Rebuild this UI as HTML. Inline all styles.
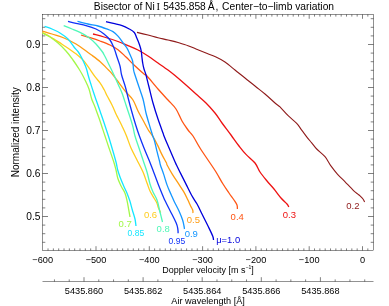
<!DOCTYPE html>
<html><head><meta charset="utf-8"><style>
html,body{margin:0;padding:0;background:#fff;}
svg{display:block;font-family:"Liberation Sans",sans-serif;font-size:9.2px;fill:#000;}
</style></head><body>
<svg width="389" height="306" viewBox="0 0 389 306" style="will-change:transform">
<rect width="389" height="306" fill="#fff"/>
<rect x="42.5" y="14.5" width="331.0" height="236.0" fill="none" stroke="#000" stroke-width="0.43"/>
<path d="M48.03 250.5v-2.1M48.03 14.5v2.1M53.36 250.5v-2.1M53.36 14.5v2.1M58.69 250.5v-2.1M58.69 14.5v2.1M64.02 250.5v-2.1M64.02 14.5v2.1M69.35 250.5v-2.1M69.35 14.5v2.1M74.68 250.5v-2.1M74.68 14.5v2.1M80.01 250.5v-2.1M80.01 14.5v2.1M85.34 250.5v-2.1M85.34 14.5v2.1M90.67 250.5v-2.1M90.67 14.5v2.1M96.00 250.5v-4.3M96.00 14.5v4.3M101.33 250.5v-2.1M101.33 14.5v2.1M106.66 250.5v-2.1M106.66 14.5v2.1M111.99 250.5v-2.1M111.99 14.5v2.1M117.32 250.5v-2.1M117.32 14.5v2.1M122.65 250.5v-2.1M122.65 14.5v2.1M127.98 250.5v-2.1M127.98 14.5v2.1M133.31 250.5v-2.1M133.31 14.5v2.1M138.64 250.5v-2.1M138.64 14.5v2.1M143.97 250.5v-2.1M143.97 14.5v2.1M149.30 250.5v-4.3M149.30 14.5v4.3M154.63 250.5v-2.1M154.63 14.5v2.1M159.96 250.5v-2.1M159.96 14.5v2.1M165.29 250.5v-2.1M165.29 14.5v2.1M170.62 250.5v-2.1M170.62 14.5v2.1M175.95 250.5v-2.1M175.95 14.5v2.1M181.28 250.5v-2.1M181.28 14.5v2.1M186.61 250.5v-2.1M186.61 14.5v2.1M191.94 250.5v-2.1M191.94 14.5v2.1M197.27 250.5v-2.1M197.27 14.5v2.1M202.60 250.5v-4.3M202.60 14.5v4.3M207.93 250.5v-2.1M207.93 14.5v2.1M213.26 250.5v-2.1M213.26 14.5v2.1M218.59 250.5v-2.1M218.59 14.5v2.1M223.92 250.5v-2.1M223.92 14.5v2.1M229.25 250.5v-2.1M229.25 14.5v2.1M234.58 250.5v-2.1M234.58 14.5v2.1M239.91 250.5v-2.1M239.91 14.5v2.1M245.24 250.5v-2.1M245.24 14.5v2.1M250.57 250.5v-2.1M250.57 14.5v2.1M255.90 250.5v-4.3M255.90 14.5v4.3M261.23 250.5v-2.1M261.23 14.5v2.1M266.56 250.5v-2.1M266.56 14.5v2.1M271.89 250.5v-2.1M271.89 14.5v2.1M277.22 250.5v-2.1M277.22 14.5v2.1M282.55 250.5v-2.1M282.55 14.5v2.1M287.88 250.5v-2.1M287.88 14.5v2.1M293.21 250.5v-2.1M293.21 14.5v2.1M298.54 250.5v-2.1M298.54 14.5v2.1M303.87 250.5v-2.1M303.87 14.5v2.1M309.20 250.5v-4.3M309.20 14.5v4.3M314.53 250.5v-2.1M314.53 14.5v2.1M319.86 250.5v-2.1M319.86 14.5v2.1M325.19 250.5v-2.1M325.19 14.5v2.1M330.52 250.5v-2.1M330.52 14.5v2.1M335.85 250.5v-2.1M335.85 14.5v2.1M341.18 250.5v-2.1M341.18 14.5v2.1M346.51 250.5v-2.1M346.51 14.5v2.1M351.84 250.5v-2.1M351.84 14.5v2.1M357.17 250.5v-2.1M357.17 14.5v2.1M362.50 250.5v-4.3M362.50 14.5v4.3M367.83 250.5v-2.1M367.83 14.5v2.1M42.5 242.30h2.8M373.5 242.30h-2.8M42.5 233.70h2.8M373.5 233.70h-2.8M42.5 225.10h2.8M373.5 225.10h-2.8M42.5 216.50h5.5M373.5 216.50h-5.5M42.5 207.90h2.8M373.5 207.90h-2.8M42.5 199.30h2.8M373.5 199.30h-2.8M42.5 190.70h2.8M373.5 190.70h-2.8M42.5 182.10h2.8M373.5 182.10h-2.8M42.5 173.50h5.5M373.5 173.50h-5.5M42.5 164.90h2.8M373.5 164.90h-2.8M42.5 156.30h2.8M373.5 156.30h-2.8M42.5 147.70h2.8M373.5 147.70h-2.8M42.5 139.10h2.8M373.5 139.10h-2.8M42.5 130.50h5.5M373.5 130.50h-5.5M42.5 121.90h2.8M373.5 121.90h-2.8M42.5 113.30h2.8M373.5 113.30h-2.8M42.5 104.70h2.8M373.5 104.70h-2.8M42.5 96.10h2.8M373.5 96.10h-2.8M42.5 87.50h5.5M373.5 87.50h-5.5M42.5 78.90h2.8M373.5 78.90h-2.8M42.5 70.30h2.8M373.5 70.30h-2.8M42.5 61.70h2.8M373.5 61.70h-2.8M42.5 53.10h2.8M373.5 53.10h-2.8M42.5 44.50h5.5M373.5 44.50h-5.5M42.5 35.90h2.8M373.5 35.90h-2.8M42.5 27.30h2.8M373.5 27.30h-2.8M42.5 18.70h2.8M373.5 18.70h-2.8" stroke="#000" stroke-width="0.5" fill="none"/>
<text x="42.7" y="262.5" text-anchor="middle">−600</text>
<text x="96.0" y="262.5" text-anchor="middle">−500</text>
<text x="149.3" y="262.5" text-anchor="middle">−400</text>
<text x="202.6" y="262.5" text-anchor="middle">−300</text>
<text x="255.9" y="262.5" text-anchor="middle">−200</text>
<text x="309.2" y="262.5" text-anchor="middle">−100</text>
<text x="362.5" y="262.5" text-anchor="middle">0</text>
<text x="40.4" y="220.2" text-anchor="end" font-size="10.2">0.5</text>
<text x="40.4" y="177.2" text-anchor="end" font-size="10.2">0.6</text>
<text x="40.4" y="134.2" text-anchor="end" font-size="10.2">0.7</text>
<text x="40.4" y="91.2" text-anchor="end" font-size="10.2">0.8</text>
<text x="40.4" y="48.2" text-anchor="end" font-size="10.2">0.9</text>
<text x="162.3" y="272.6" textLength="91.4" lengthAdjust="spacingAndGlyphs">Doppler velocity [m s<tspan dy="-3.6" font-size="5.2">−1</tspan><tspan dy="3.6">]</tspan></text>
<text transform="translate(18.7,132.3) rotate(-90)" text-anchor="middle" font-size="10">Normalized intensity</text>
<g font-size="10.3"><text x="93.8" y="10" textLength="61" lengthAdjust="spacingAndGlyphs">Bisector of Ni</text><text x="156.6" y="10" font-family="Liberation Serif" font-size="10.5">I</text><text x="163.2" y="10" textLength="42.6" lengthAdjust="spacingAndGlyphs">5435.858</text><text x="207.7" y="10">Å</text><text x="215.4" y="10">,</text><text x="222.1" y="10" textLength="112" lengthAdjust="spacingAndGlyphs">Center−to−limb variation</text></g>
<path d="M42.5 281.5H373.5" stroke="#000" stroke-width="0.43"/>
<path d="M54.45 281.5v-2.1M69.22 281.5v-2.1M84.00 281.5v-4.3M98.78 281.5v-2.1M113.55 281.5v-2.1M128.32 281.5v-2.1M143.10 281.5v-4.3M157.88 281.5v-2.1M172.65 281.5v-2.1M187.43 281.5v-2.1M202.20 281.5v-4.3M216.97 281.5v-2.1M231.75 281.5v-2.1M246.53 281.5v-2.1M261.30 281.5v-4.3M276.08 281.5v-2.1M290.85 281.5v-2.1M305.62 281.5v-2.1M320.40 281.5v-4.3M335.18 281.5v-2.1M349.95 281.5v-2.1M364.73 281.5v-2.1" stroke="#000" stroke-width="0.5" fill="none"/>
<text x="84.0" y="293.5" text-anchor="middle">5435.860</text>
<text x="143.1" y="293.5" text-anchor="middle">5435.862</text>
<text x="202.2" y="293.5" text-anchor="middle">5435.864</text>
<text x="261.3" y="293.5" text-anchor="middle">5435.866</text>
<text x="320.4" y="293.5" text-anchor="middle">5435.868</text>
<text x="171.3" y="303.5" textLength="73.6" lengthAdjust="spacingAndGlyphs">Air wavelength [Å]</text>
<path d="M137.0 32.4C138.8 32.8 144.5 34.1 148.0 35.0C151.5 35.9 154.7 36.9 158.0 37.7C161.3 38.5 164.7 39.2 168.0 40.0C171.3 40.8 174.7 41.5 178.0 42.5C181.3 43.5 185.0 44.6 188.0 45.7C191.0 46.8 193.0 47.8 196.0 49.0C199.0 50.2 202.7 51.7 206.0 53.0C209.3 54.3 212.8 55.5 216.0 57.0C219.2 58.5 221.8 59.8 225.0 62.0C228.2 64.2 231.7 67.3 235.0 70.0C238.3 72.7 241.7 75.3 245.0 78.0C248.3 80.7 251.7 83.3 255.0 86.0C258.3 88.7 261.7 91.2 265.0 94.0C268.3 96.8 272.5 100.8 275.0 103.0C277.5 105.2 277.8 104.8 280.0 106.9C282.2 109.1 285.6 113.2 288.4 115.9C291.2 118.7 294.5 121.0 296.7 123.4C298.9 125.8 300.0 127.9 301.7 130.1C303.4 132.3 305.1 134.7 306.7 136.8C308.3 138.9 309.8 140.6 311.5 142.6C313.2 144.6 314.4 146.7 316.7 149.0C318.9 151.3 322.6 153.9 325.0 156.7C327.4 159.5 328.8 163.0 330.9 165.9C333.0 168.8 335.2 171.7 337.6 174.3C340.0 177.0 342.4 179.1 345.1 181.8C347.8 184.6 351.5 188.6 353.8 190.8C356.1 193.0 357.5 193.6 359.0 195.0C360.5 196.4 362.1 197.8 363.0 199.0C363.9 200.2 364.3 201.5 364.6 202.0" stroke="#8f1a1a" stroke-width="1.1" fill="none" stroke-linejoin="round" stroke-linecap="butt"/>
<text x="346.3" y="209.1" fill="#8f1a1a" font-size="9.5">0.2</text>
<path d="M93.0 34.0C94.8 34.5 99.8 35.8 104.0 37.0C108.2 38.2 114.0 40.0 118.0 41.5C122.0 43.0 124.7 44.3 128.0 45.7C131.3 47.1 134.7 48.3 138.0 50.0C141.3 51.7 144.7 53.8 148.0 56.0C151.3 58.2 154.7 60.7 158.0 63.0C161.3 65.3 165.2 67.9 168.0 70.0C170.8 72.1 172.0 73.0 175.0 75.5C178.0 78.0 182.5 81.9 186.0 85.0C189.5 88.1 192.7 91.0 196.0 94.0C199.3 97.0 202.8 99.8 206.0 103.0C209.2 106.2 212.3 109.7 215.0 113.0C217.7 116.3 219.3 119.3 222.0 123.0C224.7 126.7 228.2 131.2 231.0 135.0C233.8 138.8 236.5 142.8 239.0 146.0C241.5 149.2 243.3 151.6 246.0 154.4C248.7 157.2 252.7 160.1 255.0 163.0C257.3 165.9 258.0 169.0 260.0 172.0C262.0 175.0 264.7 178.2 267.0 181.0C269.3 183.8 271.7 186.2 274.0 189.0C276.3 191.8 278.8 195.5 281.0 198.0C283.2 200.5 285.7 202.5 287.0 204.0C288.3 205.5 288.5 206.5 288.8 207.0" stroke="#ee1111" stroke-width="1.3" fill="none" stroke-linejoin="round" stroke-linecap="butt"/>
<text x="282.8" y="217.7" fill="#ee1111" font-size="9.5">0.3</text>
<path d="M81.0 35.0C82.5 35.5 86.8 36.7 90.0 37.7C93.2 38.7 96.7 39.8 100.0 41.0C103.3 42.2 107.0 43.5 110.0 45.0C113.0 46.5 115.3 47.7 118.0 49.7C120.7 51.7 123.3 54.5 126.0 57.0C128.7 59.5 131.0 62.2 134.0 65.0C137.0 67.8 141.8 72.2 144.0 74.0C146.2 75.8 144.7 73.5 147.0 76.0C149.3 78.5 154.5 85.0 158.0 89.0C161.5 93.0 165.0 96.7 168.0 100.0C171.0 103.3 173.7 105.5 176.0 109.0C178.3 112.5 180.0 117.5 182.0 121.0C184.0 124.5 186.2 127.5 188.0 130.0C189.8 132.5 191.0 133.0 193.0 136.0C195.0 139.0 197.5 144.0 200.0 148.0C202.5 152.0 205.3 156.0 208.0 160.0C210.7 164.0 213.5 168.0 216.0 172.0C218.5 176.0 220.8 180.5 223.0 184.0C225.2 187.5 227.2 190.3 229.0 193.0C230.8 195.7 232.7 198.0 234.0 200.0C235.3 202.0 236.4 203.5 237.0 205.0C237.6 206.5 237.3 208.3 237.4 209.0" stroke="#ff5514" stroke-width="1.3" fill="none" stroke-linejoin="round" stroke-linecap="butt"/>
<text x="230.6" y="219.7" fill="#ff5514" font-size="9.5">0.4</text>
<path d="M42.4 31.0C44.0 31.5 48.4 32.8 52.0 34.0C55.6 35.2 60.0 36.3 64.0 38.0C68.0 39.7 72.0 41.6 76.0 44.0C80.0 46.4 85.4 50.7 88.0 52.5C90.6 54.3 89.5 53.5 91.5 55.0C93.5 56.5 97.6 59.5 100.2 61.7C102.8 63.9 105.0 66.5 106.9 68.4C108.8 70.3 109.7 70.9 111.5 73.1C113.3 75.3 115.6 78.3 118.0 81.5C120.4 84.7 123.5 88.9 126.0 92.0C128.5 95.1 131.0 96.8 133.0 100.0C135.0 103.2 136.2 107.3 138.0 111.0C139.8 114.7 142.3 118.8 144.0 122.0C145.7 125.2 146.8 127.5 148.3 130.0C149.8 132.4 151.4 134.1 153.0 136.7C154.6 139.3 156.2 142.5 157.7 145.4C159.1 148.3 160.2 151.2 161.7 154.1C163.1 157.0 165.5 161.0 166.4 162.8C167.3 164.6 166.1 163.1 167.1 165.0C168.1 166.9 170.5 171.3 172.4 174.4C174.3 177.5 176.6 180.8 178.5 183.7C180.4 186.6 182.2 189.1 183.8 191.8C185.4 194.5 186.7 197.5 187.8 199.8C188.9 202.1 189.7 204.0 190.5 205.7C191.3 207.4 192.3 208.8 192.7 210.0C193.1 211.2 192.9 212.5 193.0 213.0" stroke="#ff9c12" stroke-width="1.3" fill="none" stroke-linejoin="round" stroke-linecap="butt"/>
<text x="186.8" y="222.5" fill="#ff9c12" font-size="9.5">0.5</text>
<path d="M42.4 32.4C43.4 33.0 46.3 34.5 48.5 35.8C50.7 37.1 53.1 38.6 55.4 40.0C57.6 41.4 59.8 42.7 62.0 44.2C64.2 45.7 66.2 47.0 68.8 48.8C71.4 50.6 75.0 53.1 77.4 55.0C79.8 56.9 81.5 58.3 83.4 60.4C85.3 62.5 86.9 65.0 88.8 67.7C90.7 70.4 92.9 73.8 94.8 76.4C96.7 79.0 98.6 80.9 100.2 83.1C101.8 85.3 103.0 87.6 104.2 89.8C105.4 92.0 105.9 93.5 107.2 96.0C108.5 98.5 110.5 102.0 112.0 105.0C113.5 108.0 115.0 111.8 116.0 114.0C117.0 116.2 117.0 116.0 118.0 118.0C119.0 120.0 120.6 123.0 122.0 126.0C123.4 129.0 125.0 132.3 126.5 136.0C128.0 139.7 129.2 144.0 131.0 148.0C132.8 152.0 135.0 156.0 137.0 160.0C139.0 164.0 141.3 168.2 143.0 172.0C144.7 175.8 145.8 179.8 147.0 183.0C148.2 186.2 148.8 188.5 150.0 191.0C151.2 193.5 152.8 196.0 154.0 198.0C155.2 200.0 156.2 201.5 156.9 203.0C157.6 204.5 157.5 205.4 158.1 207.0C158.7 208.6 160.2 211.8 160.6 212.8" stroke="#ffcd1e" stroke-width="1.3" fill="none" stroke-linejoin="round" stroke-linecap="butt"/>
<text x="143.9" y="217.8" fill="#ffcd1e" font-size="9.5">0.6</text>
<path d="M42.4 33.0C43.7 33.7 47.4 35.3 50.0 37.0C52.6 38.7 55.3 40.7 58.0 43.0C60.7 45.3 63.5 48.2 66.0 51.0C68.5 53.8 70.8 57.0 73.0 60.0C75.2 63.0 77.4 66.5 79.0 69.0C80.6 71.5 81.3 72.8 82.5 75.0C83.7 77.2 84.9 79.7 86.0 82.0C87.1 84.3 88.0 86.2 89.0 89.0C90.0 91.8 90.7 96.0 91.7 99.0C92.7 102.0 93.8 103.8 95.0 107.0C96.2 110.2 97.8 114.7 99.0 118.0C100.2 121.3 101.0 124.0 102.0 127.0C103.0 130.0 103.8 132.5 105.0 136.0C106.2 139.5 107.5 143.7 109.0 148.0C110.5 152.3 112.6 158.3 113.8 162.0C115.0 165.7 115.3 167.3 116.0 170.0C116.7 172.7 116.9 175.3 117.7 178.0C118.5 180.7 119.9 183.4 121.1 186.0C122.3 188.6 124.1 190.9 125.1 193.4C126.1 195.9 126.5 198.0 127.1 200.8C127.7 203.6 128.3 207.5 128.8 210.2C129.3 212.9 129.8 215.9 130.0 217.0" stroke="#a2f848" stroke-width="1.3" fill="none" stroke-linejoin="round" stroke-linecap="butt"/>
<text x="118.6" y="227.1" fill="#a2f848" font-size="9.5">0.7</text>
<path d="M63.7 25.6C65.1 26.2 69.3 27.9 72.0 29.0C74.7 30.1 77.3 31.1 80.0 32.4C82.7 33.7 85.3 35.1 88.0 37.0C90.7 38.9 93.6 41.5 96.0 44.0C98.4 46.5 101.1 50.2 102.5 52.0C103.9 53.8 103.2 53.2 104.2 55.0C105.2 56.8 107.0 60.5 108.2 63.0C109.4 65.5 110.6 67.9 111.5 69.7C112.4 71.5 112.4 71.6 113.5 74.0C114.6 76.4 116.6 80.8 118.0 84.0C119.4 87.2 120.7 89.5 122.0 93.0C123.3 96.5 124.7 101.0 126.0 105.0C127.3 109.0 128.8 113.3 130.0 117.0C131.2 120.7 132.2 123.8 133.0 127.0C133.8 130.2 134.0 132.5 135.0 136.0C136.0 139.5 137.7 144.0 139.0 148.0C140.3 152.0 141.7 156.0 143.0 160.0C144.3 164.0 145.8 168.0 147.0 172.0C148.2 176.0 149.0 180.7 150.0 184.0C151.0 187.3 151.8 189.3 153.0 192.0C154.2 194.7 155.9 197.0 157.0 200.0C158.1 203.0 158.8 207.0 159.5 210.0C160.2 213.0 161.0 216.0 161.5 218.0C162.0 220.0 162.3 221.3 162.5 222.0" stroke="#50f8b8" stroke-width="1.3" fill="none" stroke-linejoin="round" stroke-linecap="butt"/>
<text x="156.6" y="232.3" fill="#50f8b8" font-size="9.5">0.8</text>
<path d="M44.6 26.4C45.8 26.8 49.4 27.9 52.0 29.0C54.6 30.1 57.3 31.3 60.0 33.0C62.7 34.7 65.7 36.7 68.0 39.0C70.3 41.3 72.3 44.8 74.0 47.0C75.7 49.2 77.0 50.2 78.3 52.0C79.6 53.8 80.5 55.3 81.8 58.0C83.1 60.7 85.2 65.2 86.2 68.0C87.2 70.8 87.4 72.5 88.1 75.0C88.8 77.5 89.6 80.2 90.5 83.0C91.4 85.8 92.4 89.0 93.4 92.0C94.4 95.0 95.4 97.8 96.5 101.0C97.6 104.2 98.8 107.5 100.0 111.0C101.2 114.5 102.4 117.8 103.8 122.0C105.2 126.2 107.0 131.7 108.4 136.0C109.8 140.3 110.7 143.7 112.0 148.0C113.3 152.3 115.0 158.3 116.0 162.0C117.0 165.7 117.0 167.3 117.7 170.0C118.4 172.7 119.4 175.3 120.4 178.0C121.4 180.7 122.6 183.4 123.7 186.0C124.8 188.6 126.1 190.9 127.1 193.4C128.1 195.9 128.9 198.0 129.8 200.8C130.7 203.6 131.5 207.2 132.4 210.2C133.3 213.2 134.4 216.4 135.0 219.0C135.6 221.6 135.8 224.8 136.0 226.0" stroke="#14e6ff" stroke-width="1.3" fill="none" stroke-linejoin="round" stroke-linecap="butt"/>
<text x="127.6" y="235.7" fill="#14e6ff" font-size="9.5" textLength="16.6" lengthAdjust="spacingAndGlyphs">0.85</text>
<path d="M77.5 21.4C79.2 21.8 84.6 23.2 88.0 24.0C91.4 24.8 94.7 25.1 98.0 26.0C101.3 26.9 105.5 28.5 108.0 29.4C110.5 30.3 111.3 30.5 113.0 31.6C114.7 32.7 116.2 34.1 118.0 36.1C119.8 38.1 121.9 41.4 123.5 43.5C125.1 45.6 126.3 46.9 127.4 48.8C128.5 50.7 129.2 52.8 130.1 54.8C131.0 56.8 132.0 58.5 132.6 61.0C133.2 63.5 133.2 67.7 133.6 70.0C134.0 72.3 134.1 72.2 135.0 75.0C135.9 77.8 137.7 83.0 139.0 87.0C140.3 91.0 141.8 94.7 143.0 99.0C144.2 103.3 144.8 108.3 146.0 113.0C147.2 117.7 148.9 123.2 150.0 127.0C151.1 130.8 152.1 133.7 152.8 136.0C153.5 138.3 153.7 138.1 154.4 140.7C155.1 143.3 156.2 148.0 157.0 151.4C157.8 154.8 158.9 158.7 159.5 161.0C160.1 163.3 159.7 162.8 160.4 165.0C161.1 167.2 162.6 171.1 163.7 174.4C164.8 177.8 165.9 181.8 167.1 185.1C168.3 188.4 169.9 191.8 171.1 194.5C172.3 197.2 172.9 198.8 174.2 201.5C175.5 204.2 177.6 207.9 179.0 211.0C180.4 214.1 181.8 217.5 182.6 220.0C183.4 222.5 183.7 224.5 184.0 226.0C184.3 227.5 184.4 228.5 184.5 229.0" stroke="#1496ff" stroke-width="1.3" fill="none" stroke-linejoin="round" stroke-linecap="butt"/>
<text x="184.7" y="236.6" fill="#1496ff" font-size="9.5">0.9</text>
<path d="M68.0 21.4C69.3 21.7 73.0 22.7 76.0 23.4C79.0 24.1 82.7 24.7 86.0 25.6C89.3 26.5 93.0 27.6 96.0 29.0C99.0 30.4 101.7 32.2 104.0 34.0C106.3 35.8 108.3 37.7 110.0 40.0C111.7 42.3 112.8 45.2 114.0 48.0C115.2 50.8 116.0 54.0 117.0 57.0C118.0 60.0 119.2 63.0 120.0 66.0C120.8 69.0 120.7 71.5 121.6 75.0C122.5 78.5 124.3 83.0 125.4 87.0C126.5 91.0 127.4 95.0 128.4 99.0C129.4 103.0 130.4 106.7 131.6 111.0C132.8 115.3 134.4 120.8 135.7 125.0C137.0 129.2 138.0 132.2 139.4 136.0C140.8 139.8 142.4 144.0 144.0 148.0C145.6 152.0 147.3 155.8 149.0 160.0C150.7 164.2 152.3 168.7 154.0 173.0C155.7 177.3 157.3 182.0 158.9 186.0C160.5 190.0 162.4 194.7 163.4 197.0C164.4 199.3 163.6 197.7 164.7 200.0C165.8 202.3 168.2 206.9 170.1 210.7C172.0 214.5 174.8 219.8 176.1 222.8C177.4 225.8 177.5 227.1 177.8 228.8C178.1 230.5 178.1 232.5 178.1 233.2" stroke="#1032f8" stroke-width="1.3" fill="none" stroke-linejoin="round" stroke-linecap="butt"/>
<text x="168.6" y="243.7" fill="#1032f8" font-size="9.5" textLength="16.6" lengthAdjust="spacingAndGlyphs">0.95</text>
<path d="M106.0 21.6C107.2 21.9 110.7 22.7 113.4 23.4C116.1 24.1 119.5 24.7 122.1 25.6C124.7 26.5 126.8 27.6 128.8 28.7C130.8 29.8 133.0 30.9 134.3 32.5C135.6 34.1 135.9 36.1 136.8 38.1C137.7 40.1 138.8 42.7 139.5 44.8C140.2 46.9 140.8 48.8 141.2 50.8C141.6 52.8 141.7 55.0 141.9 57.0C142.2 59.0 142.3 61.0 142.7 63.0C143.0 65.0 143.4 67.0 144.0 69.0C144.6 71.0 145.2 72.0 146.0 75.0C146.8 78.0 147.8 82.3 149.0 87.0C150.2 91.7 151.5 97.7 153.0 103.0C154.5 108.3 156.3 114.0 158.0 119.0C159.7 124.0 162.0 130.2 163.0 133.0C164.0 135.8 163.2 133.9 164.0 136.0C164.8 138.1 166.3 141.6 168.0 145.5C169.7 149.4 172.6 156.2 174.0 159.5C175.4 162.8 175.3 162.5 176.5 165.0C177.7 167.5 179.4 171.1 181.1 174.4C182.8 177.8 184.7 181.5 186.5 185.1C188.3 188.7 190.2 192.7 191.9 195.8C193.6 198.9 195.2 200.8 196.9 203.8C198.6 206.8 200.2 210.3 202.0 214.0C203.8 217.7 206.2 222.3 208.0 226.0C209.8 229.7 211.8 233.7 212.7 236.0C213.6 238.3 213.4 239.3 213.5 240.0" stroke="#0000dc" stroke-width="1.3" fill="none" stroke-linejoin="round" stroke-linecap="butt"/>
<text x="216.2" y="242.5" fill="#0000dc" font-size="9.5" textLength="24" lengthAdjust="spacingAndGlyphs">μ=1.0</text>
</svg></body></html>
